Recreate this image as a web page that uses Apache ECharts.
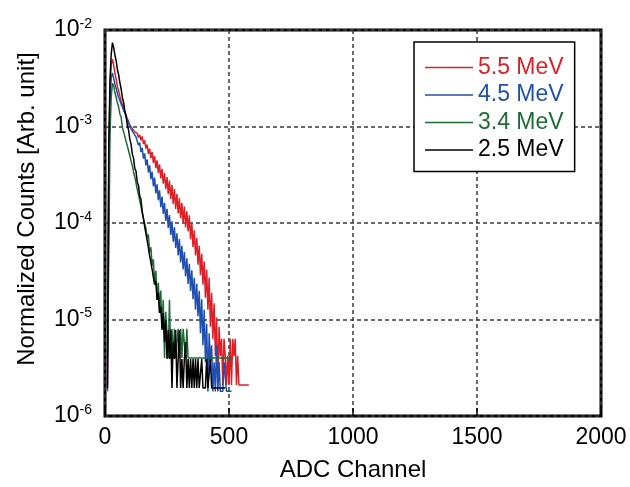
<!DOCTYPE html>
<html>
<head>
<meta charset="utf-8">
<script src="https://cdn.jsdelivr.net/npm/echarts@6/dist/echarts.min.js"></script>
<style>html,body{margin:0;padding:0;background:#fff}#c{width:630px;height:487px}</style>
</head>
<body>
<div id="c"></div>
<script>
// ADC channel of each bin (step 5)
const channels = [
  0,5,10,15,20,25,30,35,40,45,
  50,55,60,65,70,75,80,85,90,95,
  100,105,110,115,120,125,130,135,140,145,
  150,155,160,165,170,175,180,185,190,195,
  200,205,210,215,220,225,230,235,240,245,
  250,255,260,265,270,275,280,285,290,295,
  300,305,310,315,320,325,330,335,340,345,
  350,355,360,365,370,375,380,385,390,395,
  400,405,410,415,420,425,430,435,440,445,
  450,455,460,465,470,475,480,485,490,495,
  500,505,510,515,520,525,530,535,540,545,
  550,555,560,565,570,575,580,585,590,595,
  600
];
// Normalized counts, in units of 1e-6 (null = empty bin)
const mev55 = [
  null,null,2.1,300,2400,4400,5000,4300,3600,3100,
  2600,2350,2050,1850,1700,1530,1430,1300,1200,1130,
  1040,1000,950,940,880,870,850,770,820,720,
  790,660,720,590,650,520,590,470,545,420,
  495,370,445,330,405,290,365,255,330,225,
  300,200,275,178,248,158,225,140,200,126,
  180,112,162,100,148,90,132,82,120,68,
  100,56,84,46,70,37,58,29,48,23,
  40,16.8,33,12.6,27,8.4,18.9,6.3,14.7,4.2,
  10.5,2.1,8.4,4.2,6.3,2.1,6.3,4.2,2.1,4.2,
  2.1,6.3,2.1,6.3,4.2,6.3,2.1,4.2,2.1,null,
  2.1,null,null,2.1,null,null,2.1,null,null,null,
  null
];
const mev45 = [
  null,null,1.8,250,1800,3200,3600,3150,2750,2500,
  2200,2000,1860,1700,1600,1460,1380,1250,1180,1060,
  1010,950,920,860,840,780,790,640,680,545,
  600,465,525,395,455,335,395,285,340,240,
  295,203,252,172,218,146,188,124,162,105,
  140,89,121,75,104,64,90,55,78,46,
  68,39,58,33,50,28,43,23.4,37.8,19.8,
  32.4,16.2,27,12.6,23.4,10.8,19.8,7.2,16.2,5.4,
  12.6,3.6,9,1.8,7.2,3.6,5.4,1.8,3.6,1.8,
  5.4,1.8,3.6,1.8,null,1.8,3.6,null,1.8,null,
  1.8,null,1.8,null,null,null,null,null,null,null,
  null,null,null,null,null,null,null,null,null,null,
  null
];
const mev34 = [
  null,null,4,40,800,2000,2800,2650,2250,2000,
  1750,1600,1350,1250,980,880,790,700,630,560,
  500,440,395,340,300,260,225,196,172,148,
  128,112,98,88,70,76,50,56,36,42,
  24,32,16,24,12,20,8,16,4,12,
  12,4,16,4,8,4,8,4,4,8,
  4,8,4,8,8,4,8,4,4,null,
  4,null,null,null,null,null,4,null,null,null,
  null,null,null,null,4,null,null,null,null,null,
  null,null,null,null,4,null,null,null,null,null,
  null,null,4,null,null,null,null,null,null,null,
  null,null,null,null,null,null,null,null,null,null,
  null
];
const mev25 = [
  null,null,1.95,600,3000,5600,7400,6600,5500,4800,
  3900,3450,2850,2450,2000,1780,1450,1280,1030,920,
  740,660,520,470,370,345,265,245,190,176,
  132,126,92,90,66,64,46,47,33,34,
  23,25,16,19,11.7,13.6,7.8,11.7,5.85,9.75,
  3.9,7.8,3.9,7.8,1.95,5.85,3.9,7.8,1.95,3.9,
  7.8,1.95,3.9,1.95,3.9,5.85,1.95,3.9,1.95,3.9,
  1.95,3.9,1.95,3.9,1.95,3.9,1.95,1.95,3.9,1.95,
  null,1.95,3.9,1.95,1.95,3.9,1.95,null,1.95,null,
  null,null,1.95,null,null,null,null,1.95,null,null,
  null,null,null,null,null,null,null,null,null,null,
  null,null,null,null,null,null,null,null,null,null,
  null
];
const seriesNames = ['5.5 MeV','4.5 MeV','3.4 MeV','2.5 MeV'];
const seriesColors = ['#dc2027','#1f4fb0','#1e6b38','#000000'];
const seriesValues = [mev55, mev45, mev34, mev25];
const xTicks = [0, 500, 1000, 1500, 2000];
const yTicks = [1e-6, 1e-5, 1e-4, 1e-3, 1e-2];

const FONT = 'Liberation Sans, Arial, Helvetica, sans-serif';
function pairs(vals){
  const out = [];
  vals.forEach((v,i)=>{ if(v!==null) out.push([channels[i], v*1e-6]); });
  return out;
}
const chart = echarts.init(document.getElementById('c'), null, {renderer:'canvas'});
const gridLine = {show:true, lineStyle:{color:'#3a3a3a', width:1.5, type:[4,3]}};
chart.setOption({
  animation:false,
  backgroundColor:'#fff',
  grid:{left:105, right:29, top:30, bottom:69, show:true, borderColor:'#000', borderWidth:3, backgroundColor:'transparent'},
  legend:{
    orient:'vertical', left:414, top:42,
    padding:[14,11,10,11], itemGap:4.5, itemWidth:48, itemHeight:1.5, icon:'rect',
    backgroundColor:'#fff', borderColor:'#000', borderWidth:1.5,
    textStyle:{fontSize:23, fontFamily:FONT, lineHeight:22},
    data: seriesNames.map((n,i)=>({name:n, textStyle:{color:seriesColors[i]}, itemStyle:{color:seriesColors[i]}}))
  },
  xAxis:{
    type:'value', min:xTicks[0], max:xTicks[xTicks.length-1], interval:500,
    name:'ADC Channel', nameLocation:'middle', nameGap:42,
    nameTextStyle:{fontSize:24, color:'#000', fontFamily:FONT},
    axisLine:{show:false},
    axisTick:{show:true, inside:true, length:8, lineStyle:{color:'#000', width:1.5}},
    axisLabel:{fontSize:23, color:'#000', margin:10, fontFamily:FONT, showMinLabel:true, showMaxLabel:true, formatter:v=>String(v)},
    splitLine:gridLine
  },
  yAxis:{
    type:'log', logBase:10, min:yTicks[0], max:yTicks[yTicks.length-1],
    name:'Normalized Counts [Arb. unit]', nameLocation:'middle', nameGap:66,
    nameTextStyle:{fontSize:24, color:'#000', fontFamily:FONT, padding:[0,0,0,28]},
    axisLine:{show:false}, axisTick:{show:false},
    axisLabel:{
      margin:13, color:'#000', fontFamily:FONT,
      formatter:v=>'{a|10}{b|'+Math.round(Math.log10(v))+'}',
      rich:{a:{fontSize:23, fontFamily:FONT, color:'#000'}, b:{fontSize:14, fontFamily:FONT, color:'#000', padding:[0,0,12,0]}}
    },
    splitLine:gridLine
  },
  series: seriesNames.map((n,i)=>({
    name:n, type:'line', symbol:'none', showSymbol:false,
    color:seriesColors[i],
    lineStyle:{width:1.5, color:seriesColors[i]},
    data:pairs(seriesValues[i]),
    z: 2+i
  }))
});
</script>
</body>
</html>
